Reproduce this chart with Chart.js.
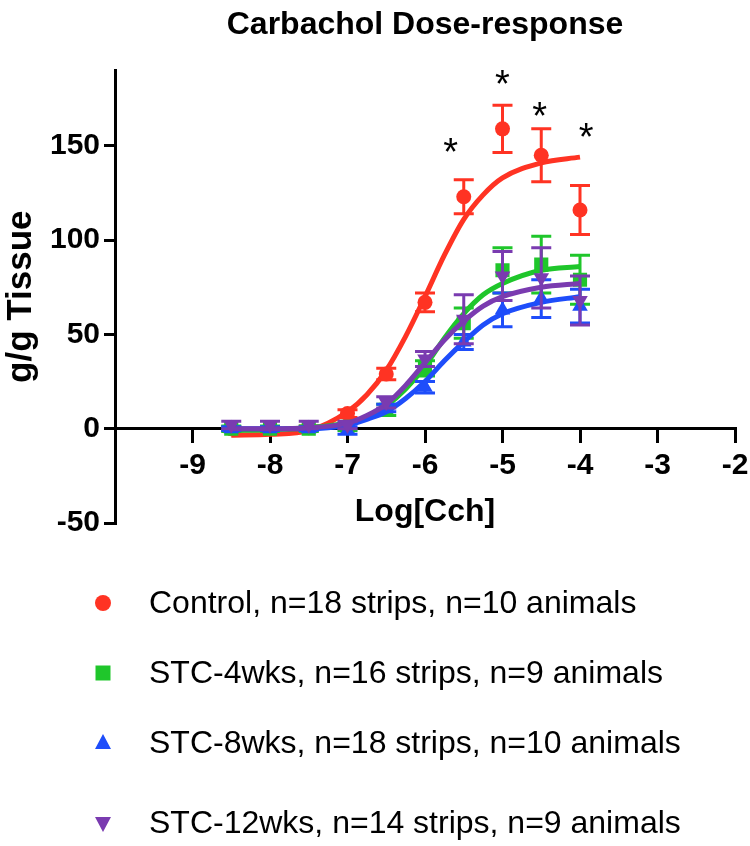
<!DOCTYPE html>
<html>
<head>
<meta charset="utf-8">
<script src="https://cdn.jsdelivr.net/npm/chart.js@4.4.1/dist/chart.umd.min.js"></script>
<style>
  html, body { margin: 0; padding: 0; background: #fff; }
  #wrap { width: 750px; height: 846px; }
</style>
</head>
<body>
<div id="wrap"><canvas id="doseChart" width="750" height="846"></canvas></div>
<script>
// log[Cch] doses
const doses = [-8.5, -8, -7.5, -7, -6.5, -6, -5.5, -5, -4.5, -4];

// mean +/- SEM, g/g tissue
const controlMean = [0, 0, 0.5, 8, 29, 67, 123, 159, 145, 116];
const controlSem  = [1, 1, 1, 2, 3, 5, 9, 12.5, 14, 13];
const stc4Mean  = [0, 0, 0, 1, 10, 32, 56, 84, 87, 79];
const stc4Sem   = [1.5, 1.5, 1.5, 2, 3, 4, 8, 12, 15, 13];
const stc8Mean  = [0, 0, 0, -1, 11, 22, 46, 63, 69, 65];
const stc8Sem   = [1, 1, 1, 2, 2, 3, 4, 9, 10, 9];
const stc12Mean = [2, 2, 2, 2, 14, 37, 58, 81, 80, 68];
const stc12Sem  = [2, 2, 2, 2, 3, 4, 13, 13, 16, 13];

// fitted curves
const curveX       = [-8.5, -8, -7.5, -7, -6.75, -6.5, -6.25, -6, -5.75, -5.5, -5.25, -5, -4.5, -4];
const controlCurve = [-3.5, -3, -1, 9, 18, 31, 49, 70, 92, 111, 124, 133, 141, 144];
const stc4Curve    = [-1, -0.5, 0.5, 3, 6, 12, 21, 33, 48, 61, 71, 77, 84, 86];
const stc8Curve    = [0, 0, 0, 2, 5, 9, 16, 25, 36, 46, 55, 61, 67, 70];
const stc12Curve   = [0, 0, 0.5, 3, 7, 13, 23, 35, 47, 57, 65, 70, 75, 77];

// significance marks
const starX = [-5.67, -5.0, -4.52, -3.92];
const starY = [150, 186, 169, 158];

const xTicks = [-9, -8, -7, -6, -5, -4, -3, -2];
const yTicks = [-50, 0, 50, 100, 150];

const labels = [
  "Control, n=18 strips, n=10 animals",
  "STC-4wks, n=16 strips, n=9 animals",
  "STC-8wks, n=18 strips, n=10 animals",
  "STC-12wks, n=14 strips, n=9 animals"
];
const colors = ["#FF3323", "#1FC62B", "#1E4DFA", "#7A3BB0"];

const FONT = "'Liberation Sans', Arial, Helvetica, sans-serif";
Chart.defaults.font.family = FONT;
Chart.defaults.color = "#000";

function pts(xs, ys) {
  return xs.map((x, i) => ({ x: x, y: ys[i] }));
}

function pointSet(i, means, sems, style, radius, rotation, order) {
  return {
    type: "scatter",
    label: labels[i],
    data: pts(doses, means),
    errors: sems,
    pointStyle: style,
    rotation: rotation,
    pointRadius: radius,
    pointHoverRadius: radius,
    backgroundColor: colors[i],
    borderColor: colors[i],
    borderWidth: 0,
    showLine: false,
    order: order
  };
}

function curveSet(i, ys, order) {
  return {
    type: "line",
    label: labels[i] + " fit",
    isCurve: true,
    data: pts(curveX, ys),
    borderColor: colors[i],
    borderWidth: 5,
    pointRadius: 0,
    fill: false,
    cubicInterpolationMode: "monotone",
    order: order
  };
}

// vertical error bars with caps, drawn under the markers
const errorBars = {
  id: "errorBars",
  beforeDatasetDraw(chart, args) {
    const ds = chart.data.datasets[args.index];
    if (!ds.errors) return;
    const ctx = chart.ctx;
    const y = chart.scales.y;
    ctx.save();
    ctx.strokeStyle = ds.borderColor;
    ctx.lineWidth = 3;
    ds.data.forEach((p, k) => {
      const px = args.meta.data[k].x;
      const top = y.getPixelForValue(p.y + ds.errors[k]);
      const bot = y.getPixelForValue(p.y - ds.errors[k]);
      ctx.beginPath();
      ctx.moveTo(px, top); ctx.lineTo(px, bot);
      ctx.moveTo(px - 10, top); ctx.lineTo(px + 10, top);
      ctx.moveTo(px - 10, bot); ctx.lineTo(px + 10, bot);
      ctx.stroke();
    });
    ctx.restore();
  }
};

const stars = {
  id: "stars",
  afterDatasetsDraw(chart) {
    const ctx = chart.ctx;
    const fs = 38;
    ctx.save();
    ctx.fillStyle = "#000";
    ctx.font = fs + "px " + FONT;
    ctx.textAlign = "center";
    ctx.textBaseline = "middle";
    starX.forEach((sx, i) => {
      const px = chart.scales.x.getPixelForValue(sx);
      const py = chart.scales.y.getPixelForValue(starY[i]);
      ctx.fillText("*", px, py + fs * 0.23);
    });
    ctx.restore();
  }
};

function drawMarker(ctx, style, x, y) {
  ctx.beginPath();
  if (style === "circle") {
    ctx.arc(x, y, 8, 0, Math.PI * 2);
  } else if (style === "rect") {
    ctx.rect(x - 7.5, y - 7.5, 15, 15);
  } else if (style === "up") {
    ctx.moveTo(x, y - 9); ctx.lineTo(x + 8, y + 6); ctx.lineTo(x - 8, y + 6);
  } else {
    ctx.moveTo(x, y + 9); ctx.lineTo(x + 8, y - 6); ctx.lineTo(x - 8, y - 6);
  }
  ctx.closePath();
  ctx.fill();
}

// single-column legend under the axis title
const sideLegend = {
  id: "sideLegend",
  afterDraw(chart, args, opts) {
    const ctx = chart.ctx;
    const sets = chart.data.datasets.filter(d => !d.isCurve);
    const shapes = ["circle", "rect", "up", "down"];
    ctx.save();
    ctx.font = "32px " + FONT;
    ctx.textAlign = "left";
    ctx.textBaseline = "middle";
    sets.forEach((d, i) => {
      const ry = opts.rows[i];
      ctx.fillStyle = d.backgroundColor;
      drawMarker(ctx, shapes[i], opts.markerX, ry);
      ctx.fillStyle = "#000";
      ctx.fillText(d.label, opts.textX, ry + 1);
    });
    ctx.restore();
  }
};

const config = {
  type: "scatter",
  data: {
    datasets: [
      curveSet(0, controlCurve, 8),
      pointSet(0, controlMean, controlSem, "circle", 7.5, 0, 7),
      curveSet(1, stc4Curve, 6),
      pointSet(1, stc4Mean, stc4Sem, "rect", 10, 0, 5),
      curveSet(2, stc8Curve, 4),
      pointSet(2, stc8Mean, stc8Sem, "triangle", 9, 0, 3),
      curveSet(3, stc12Curve, 2),
      pointSet(3, stc12Mean, stc12Sem, "triangle", 9, 180, 1)
    ]
  },
  options: {
    responsive: false,
    animation: false,
    layout: { padding: { left: 0, right: 0, top: 0, bottom: 323 } },
    plugins: {
      legend: { display: false },
      tooltip: { enabled: false },
      title: {
        display: true,
        fullSize: false,
        text: "Carbachol Dose-response",
        color: "#000",
        font: { size: 32, weight: "bold" },
        padding: { top: 6, bottom: 26 }
      },
      sideLegend: { markerX: 103, textX: 149, rows: [603, 673, 743, 823] }
    },
    scales: {
      x: {
        type: "linear",
        position: { y: 0 },
        min: -10,
        max: -2,
        afterBuildTicks: a => { a.ticks = xTicks.map(v => ({ value: v })); },
        border: { color: "#000", width: 3 },
        grid: { drawOnChartArea: false, color: "#000", lineWidth: 3, tickLength: 13 },
        ticks: { color: "#000", font: { size: 30, weight: "bold" }, padding: 6, maxRotation: 0 },
        title: {
          display: true, text: "Log[Cch]", color: "#000",
          font: { size: 32, weight: "bold" }, padding: { top: 0, bottom: 7 }
        },
        afterFit: s => { s.height = 110; s.paddingRight = 15; }
      },
      y: {
        min: -50,
        max: 190,
        afterBuildTicks: a => { a.ticks = yTicks.map(v => ({ value: v })); },
        border: { color: "#000", width: 3 },
        grid: { drawOnChartArea: false, color: "#000", lineWidth: 3, tickLength: 11 },
        ticks: { color: "#000", font: { size: 30, weight: "bold" }, padding: 4 },
        title: {
          display: true, text: "g/g Tissue", color: "#000",
          font: { size: 35, weight: "bold" }, padding: { top: 0, bottom: 0 }
        },
        afterFit: s => { s.width = 115; }
      }
    }
  },
  plugins: [errorBars, stars, sideLegend]
};

new Chart(document.getElementById("doseChart"), config);
</script>
</body>
</html>
